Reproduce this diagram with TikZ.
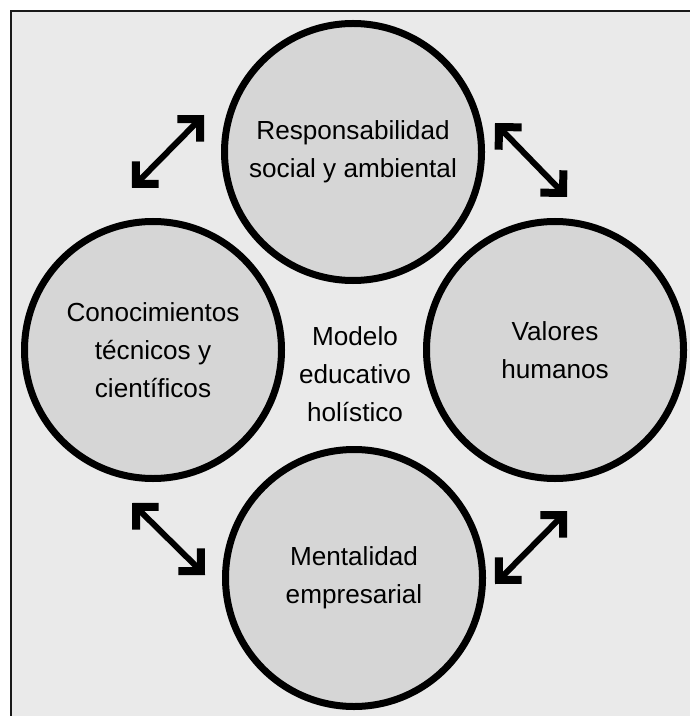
\documentclass[tikz,border=0pt]{standalone}
\usepackage{fontspec}
\setmainfont{Liberation Sans}
\usetikzlibrary{arrows.meta, positioning}
\definecolor{backfill}{RGB}{234,234,234}
\definecolor{circfill}{RGB}{214,214,214}
\definecolor{framecol}{RGB}{25,25,25}

\begin{document}
\begin{tikzpicture}
    [
        x=0.75pt, y=-0.75pt,
        theme/.style={draw, circle, line width=5.25pt, fill=circfill, minimum size=192.75pt, inner sep=0pt, align=center, font=\fontsize{19.6}{28.5}\selectfont},
        centre/.style={align=center, inner sep=0pt, font=\fontsize{19.6}{28.5}\selectfont}
    ]
    \tikzstyle{dbl} = [draw, line width=4.5pt, {Straight Barb[angle=90:17pt, line width=6pt]}-{Straight Barb[angle=90:17pt, line width=6pt]}]

    \useasboundingbox (0,0) rectangle (690,716);

    % Background and frame
    \fill[backfill] (11,11) rectangle (690,716);
    \draw[framecol, line width=2.1pt] (11,716) -- (11,11) -- (690,11);

    % Circles
    \node[theme] (resp) at (353,152) {Responsabilidad\\social y ambiental};
    \node[theme] (cono) at (153,350) {Conocimientos\\técnicos y\\científicos};
    \node[theme] (valo) at (555,350) {Valores\\humanos};
    \node[theme] (ment) at (354,578) {Mentalidad\\empresarial};
    \node[centre] (model) at (355,374) {Modelo\\educativo\\holístico};

    % Arrow ends
    \coordinate (cono_resp_a) at (132,188);
    \coordinate (cono_resp_b) at (204,115);
    \coordinate (resp_valo_a) at (495,123);
    \coordinate (resp_valo_b) at (567,197);
    \coordinate (cono_ment_a) at (132,503);
    \coordinate (cono_ment_b) at (205,575);
    \coordinate (ment_valo_a) at (495,584);
    \coordinate (ment_valo_b) at (567,511);

    % Arrows
    \path[dbl] (cono_resp_a) -- (cono_resp_b);
    \path[dbl] (resp_valo_a) -- (resp_valo_b);
    \path[dbl] (cono_ment_a) -- (cono_ment_b);
    \path[dbl] (ment_valo_a) -- (ment_valo_b);
\end{tikzpicture}
\end{document}
